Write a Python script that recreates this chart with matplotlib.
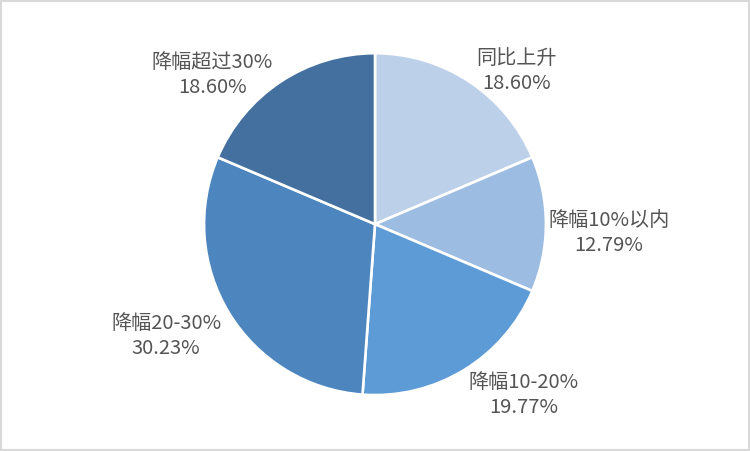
import matplotlib
matplotlib.use("Agg")
import matplotlib.pyplot as plt
from matplotlib.patches import Rectangle

# --- DATA ---
CATEGORIES = ["同比上升", "降幅10%以内", "降幅10-20%", "降幅20-30%", "降幅超过30%"]
SHARES = [18.60, 12.79, 19.77, 30.23, 18.60]
COLORS = ["#BDD0EA", "#9DBCE1", "#5D9BD6", "#4D86BF", "#43709F"]

# label placement (data units, pie radius = 1), Excel "best fit" style
LABEL_XY = [(0.83, 0.895), (1.368, -0.053), (0.871, -1.0), (-1.222, -0.655), (-0.953, 0.871)]

plt.rcParams['font.family'] = ['Noto Sans CJK SC', 'DejaVu Sans']

fig = plt.figure(figsize=(7.5, 4.51), dpi=100)
ax = fig.add_axes([0.272, 0.124, 0.456, 0.758])

wedges, _ = ax.pie(SHARES, colors=COLORS, startangle=90, counterclock=False,
                   radius=1, wedgeprops=dict(edgecolor='white', linewidth=1.9))

for name, val, (x, y) in zip(CATEGORIES, SHARES, LABEL_XY):
    ax.text(x, y, f"{name}\n{val:.2f}%", ha='center', va='center', fontsize=14.5,
            color='#555555', linespacing=1.25, clip_on=False)

ax.set_xlim(-1, 1)
ax.set_ylim(-1, 1)
ax.set_aspect('equal')
ax.axis('off')

# thin grey frame round the chart area
fig.patches.append(Rectangle((0.001, 0.002), 0.997, 0.995, transform=fig.transFigure,
                             fill=False, edgecolor='#D9D9D9', linewidth=1.5))

fig.savefig("out.png", dpi=100, facecolor='white')
